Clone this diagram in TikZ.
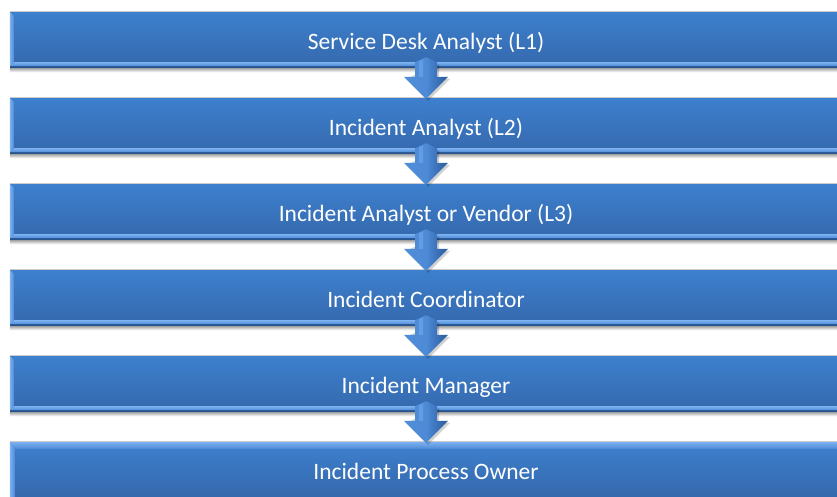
\documentclass[tikz,border=0pt]{standalone}
\usepackage{fontspec}
\setmainfont{Carlito}
\usetikzlibrary{calc}
\definecolor{facetop}{RGB}{61,128,206}
\definecolor{facebot}{RGB}{53,104,172}
\definecolor{bevlight}{RGB}{125,178,242}
\definecolor{bevmid}{RGB}{78,138,214}
\definecolor{edgedark}{RGB}{40,84,142}
\definecolor{arrlight}{RGB}{80,142,218}
\definecolor{arrdark}{RGB}{40,90,156}
\tikzset{
  bar/.style={minimum width=832pt, minimum height=56pt, inner sep=0pt,
    top color=facetop, bottom color=facebot, text=white,
    text height=20pt, text depth=2pt,
    font=\fontsize{23.5}{28}\selectfont},
  arrowbody/.style={left color=arrlight, right color=arrdark, middle color=bevmid},
  barshadow/.style={top color=black!35, bottom color=white}
}
% bevel edges of a bar: light left edge and light bottom rim
\newcommand\barbevel[1]{%
  \fill[barshadow] (#1.south west) rectangle ($(#1.south east)+(0,4)$);
  \fill[edgedark] ($(#1.south west)+(0,-2)$) rectangle (#1.south east);
  \shade[top color=bevlight, bottom color=bevmid]
    ($(#1.south west)+(4,-6)$) -- ($(#1.south east)+(0,-6)$)
    -- ($(#1.south east)+(0,-2)$) -- ($(#1.south west)+(0,-2)$) -- cycle;
  \shade[left color=bevlight, right color=bevmid]
    (#1.north west) -- ++(4,4) -- ($(#1.south west)+(4,-6)$)
    -- ($(#1.south west)+(0,-2)$) -- cycle;
  \draw[black!20, line width=0.8pt] (#1.north west) -- (#1.north east);
}
% block arrow from the bottom of one bar to the top of the next
\newcommand\flowarrow[2]{%
  \fill[black, opacity=0.18]
    ($(#1.south)+(13,-4)$) -- ($(#2.north)+(13,-19)$) -- ($(#2.north)+(24,-19)$)
    -- ($(#2.north)+(2,3)$) -- ($(#2.north)+(-20,-19)$) -- cycle;
  \shade[arrowbody]
    ($(#1.south)+(0,-11)$) -- ($(#1.south)+(11,-6)$) -- ($(#2.north)+(11,-21)$)
    -- ($(#2.north)+(22,-21)$) -- ($(#2.north)+(0,1)$) -- ($(#2.north)+(-22,-21)$)
    -- ($(#2.north)+(-11,-21)$) -- ($(#1.south)+(-11,-6)$) -- cycle;
  \fill[bevlight, opacity=0.45]
    ($(#1.south)+(-3,-9)$) -- ($(#1.south)+(-7,-7)$) -- ($(#2.north)+(-7,-21)$)
    -- ($(#2.north)+(-3,-21)$) -- cycle;
}
\begin{document}
\begin{tikzpicture}[x=1pt, y=-1pt]
  \useasboundingbox (0,0) rectangle (837,496);
  \fill[white] (0,0) rectangle (837,496);

  \node[bar] (b1) at (426,40)  {Service Desk Analyst (L1)};
  \barbevel{b1}
  \node[bar] (b2) at (426,126) {Incident Analyst (L2)};
  \barbevel{b2}
  \node[bar] (b3) at (426,212) {Incident Analyst or Vendor (L3)};
  \barbevel{b3}
  \node[bar] (b4) at (426,298) {Incident Coordinator};
  \barbevel{b4}
  \node[bar] (b5) at (426,384) {Incident Manager};
  \barbevel{b5}

  % last bar, cut by the lower edge: light top rim and left edge
  \node[bar] (b6) at (426,470) {Incident Process Owner};
  \shade[top color=bevlight, bottom color=bevmid]
    (b6.north west) -- (b6.north east) -- ($(b6.north east)+(0,7)$)
    -- ($(b6.north west)+(5,7)$) -- cycle;
  \shade[left color=bevlight, right color=bevmid]
    (b6.north west) -- ($(b6.north west)+(5,7)$) -- ($(b6.south west)+(5,0)$)
    -- (b6.south west) -- cycle;
  \draw[black!20, line width=0.8pt] (b6.north west) -- (b6.north east);

  \flowarrow{b1}{b2}
  \flowarrow{b2}{b3}
  \flowarrow{b3}{b4}
  \flowarrow{b4}{b5}
  \flowarrow{b5}{b6}
\end{tikzpicture}
\end{document}
